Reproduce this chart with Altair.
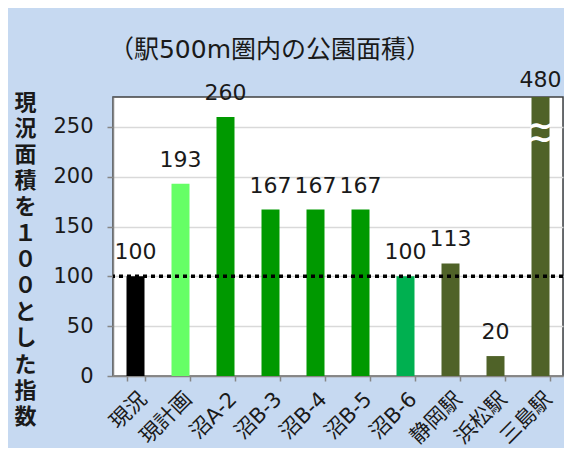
import altair as alt
import pandas as pd

categories = ["現況", "現計画", "沼A-2", "沼B-3", "沼B-4", "沼B-5", "沼B-6", "静岡駅", "浜松駅", "三島駅"]
values = [100, 193, 260, 167, 167, 167, 100, 113, 20, 480]
colors = ["#000000", "#66ff66", "#009900", "#009900", "#009900", "#009900",
          "#00b050", "#4f6228", "#4f6228", "#4f6228"]
y_ticks = [0, 50, 100, 150, 200, 250]
y_max = 280
reference_value = 100
title_text = "（駅500m圏内の公園面積）"
y_title = "現況面積を１００とした指数"

df = pd.DataFrame({"cat": categories, "value": values, "color": colors})
df["shown"] = df["value"].clip(upper=y_max)
df["label"] = df["value"].astype(str)
df_normal = df[df["value"] <= y_max]
df_clipped = df[df["value"] > y_max]

# break marks on clipped bars
breaks = pd.DataFrame({
    "cat": list(df_clipped["cat"]) * 2,
    "shown": [y_max - 29] * len(df_clipped) + [y_max - 42] * len(df_clipped),
})
ref_df = pd.DataFrame({"shown": [reference_value]})

FONT = "DejaVu Sans, Noto Sans CJK JP"
TXT = "#1a1a1a"

x_enc = alt.X(
    "cat:N", sort=categories,
    scale=alt.Scale(paddingInner=0.6, paddingOuter=0.3),
    axis=alt.Axis(
        title=None, labelAngle=-45, labelFont=FONT, labelFontSize=21,
        labelColor=TXT, labelPadding=7, tickBand="extent", tickSize=5,
        tickColor="#868686", tickWidth=1.5, domainColor="#868686",
        domainWidth=1.5, grid=False,
    ),
)
y_scale = alt.Scale(domain=[0, y_max], nice=False, zero=True)
y_enc = alt.Y(
    "shown:Q", scale=y_scale,
    axis=alt.Axis(
        values=y_ticks, title=list(y_title), titleAngle=0, titleAlign="center",
        titleBaseline="top", titleX=-88, titleY=-5, titleLineHeight=26.2,
        titleFont="Noto Sans CJK JP", titleFontSize=22, titleFontWeight="bold",
        titleColor=TXT, labelFont=FONT, labelFontSize=21, labelColor=TXT,
        labelPadding=14, tickSize=6, tickColor="#868686", tickWidth=1.5,
        domainColor="#868686", domainWidth=1.5, gridColor="#d9d9d9",
        gridWidth=1.5,
    ),
)

bars = alt.Chart(df).mark_bar(size=18).encode(
    x=x_enc, y=y_enc, color=alt.Color("color:N", scale=None)
)
labels = alt.Chart(df_normal).mark_text(
    dy=-17, baseline="alphabetic", font=FONT, fontSize=22, color=TXT
).encode(x=alt.X("cat:N", sort=categories), y=alt.Y("shown:Q"), text="label:N")
labels_clipped = alt.Chart(df_clipped).mark_text(
    dy=-10, baseline="alphabetic", font=FONT, fontSize=22, color=TXT
).encode(x=alt.X("cat:N", sort=categories), y=alt.Y("shown:Q"), text="label:N")
brk = alt.Chart(breaks).mark_text(
    text="~", font="DejaVu Sans", fontSize=32, fontWeight="bold",
    color="white", baseline="middle"
).encode(x=alt.X("cat:N", sort=categories), y=alt.Y("shown:Q"))
rule = alt.Chart(ref_df).mark_rule(
    color="black", strokeDash=[4, 4], strokeWidth=3.5
).encode(y=alt.Y("shown:Q"))

chart = alt.layer(bars, rule, brk, labels, labels_clipped).properties(
    width=450, height=279,
    title=alt.TitleParams(
        text=title_text, font=FONT, fontSize=25, fontWeight="normal",
        color=TXT, anchor="middle", frame="group", dx=-68, offset=6,
    ),
    autosize=alt.AutoSizeParams(type="none"),
    padding={"left": 105, "top": 89, "right": 1, "bottom": 72},
    background="#c6d9f1",
).configure_view(fill="white", stroke="#404040", strokeWidth=1.5)

chart.save("out.html", embed_options={"renderer": "svg", "actions": False})
